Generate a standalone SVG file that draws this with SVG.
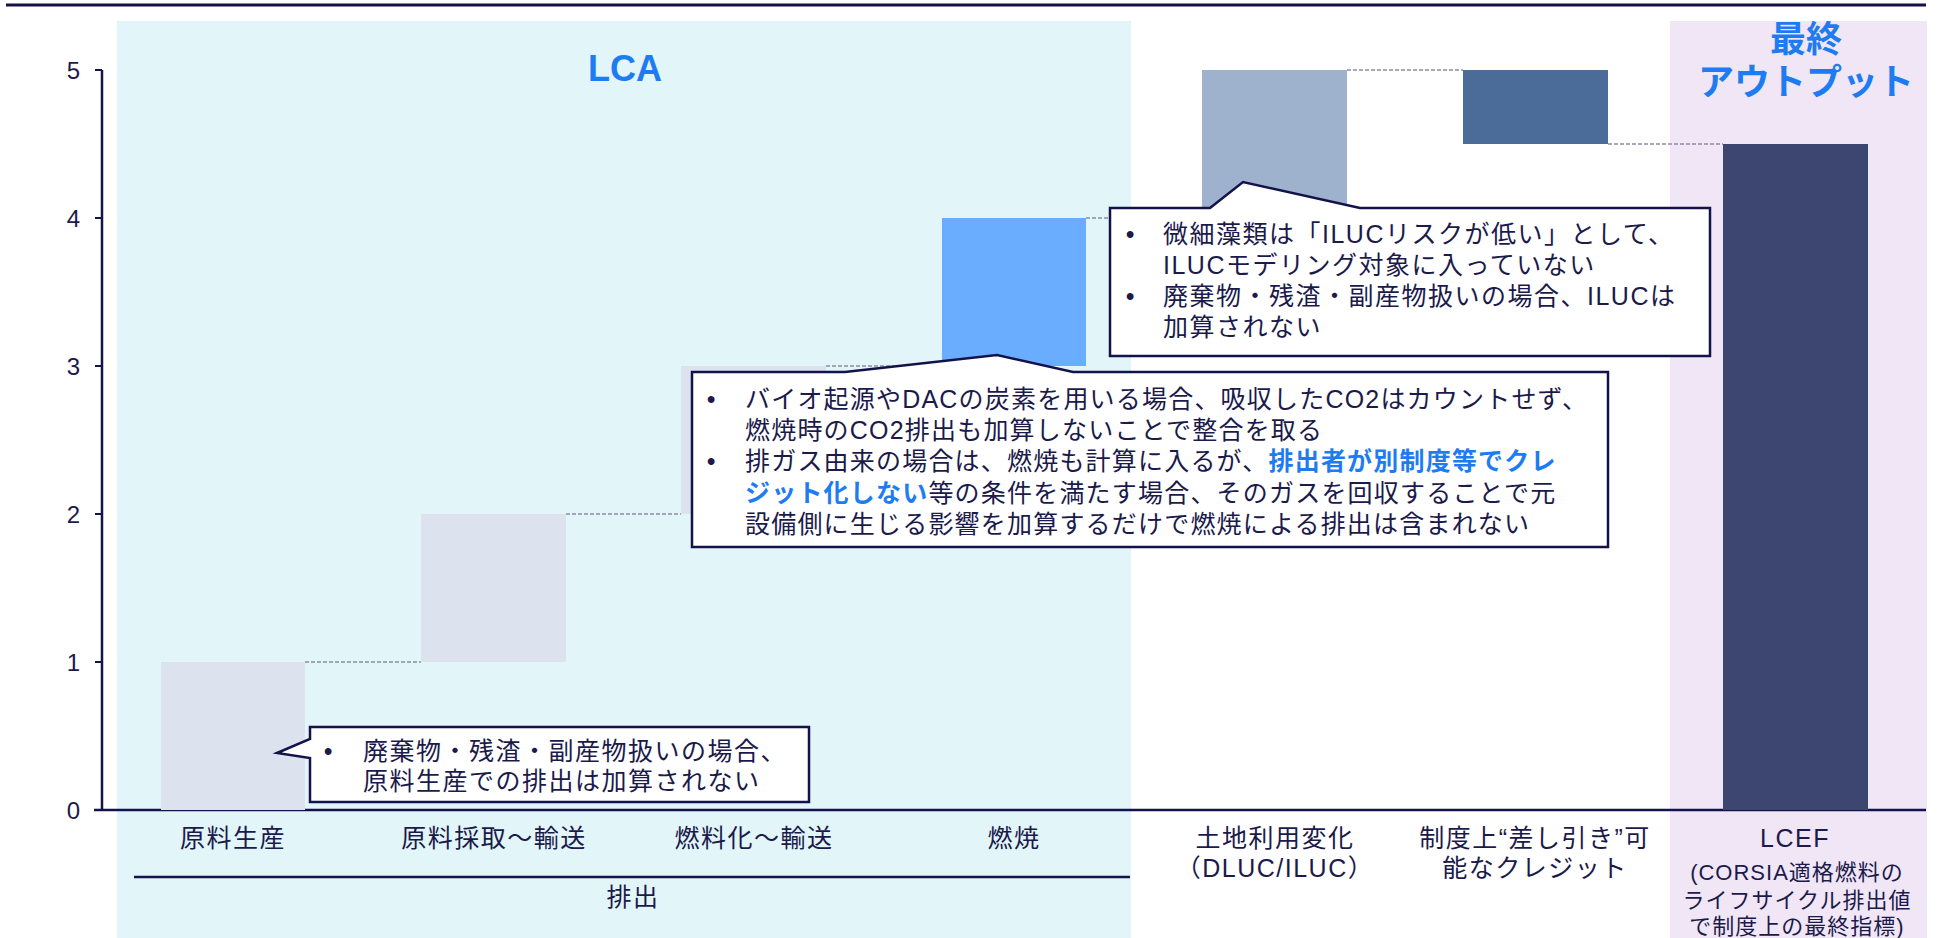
<svg xmlns="http://www.w3.org/2000/svg" width="1941" height="938" viewBox="0 0 1941 938">
<style>
.t{font-family:"Liberation Sans","Noto Sans CJK JP",sans-serif;font-size:25px;fill:#1b1a4b;letter-spacing:1.5px}
.m{text-anchor:middle}
.c3{letter-spacing:1.2px}
.ax{font-family:"Liberation Sans",sans-serif;font-size:24px;fill:#1b1a4b;text-anchor:end}
.hl{font-weight:bold;fill:#1e7cf2}
.ttl{font-family:"Liberation Sans","Noto Sans CJK JP",sans-serif;font-weight:bold;fill:#1e7cf2;font-size:36px;text-anchor:middle}
.dash{stroke:#8c8ca4;stroke-width:1.5;stroke-dasharray:4 2;fill:none}
.co{fill:#fff;stroke:#14124a;stroke-width:2.5}
.axis{stroke:#14124a;stroke-width:2.5;fill:none}
.sm{font-size:22px;letter-spacing:1px}
</style>
<g id="background">
<line x1="6" y1="5" x2="1926" y2="5" stroke="#14124a" stroke-width="3"/>
<rect id="lca-zone" x="117" y="21" width="1014" height="917" fill="#e2f5f9"/>
<rect id="final-zone" x="1670" y="21" width="257" height="917" fill="#f0e6f6"/>
<text class="ttl" x="625" y="81">LCA</text>
<text class="ttl" x="1806" y="52">最終</text>
<text class="ttl" x="1806" y="95">アウトプット</text>
</g>
<g id="axes">
<line class="axis" x1="102" y1="70" x2="102" y2="810"/>
<line class="axis" x1="94" y1="810" x2="1926" y2="810"/>
<g stroke="#14124a" stroke-width="2">
<line x1="95" y1="70" x2="102" y2="70"/>
<line x1="95" y1="218" x2="102" y2="218"/>
<line x1="95" y1="366" x2="102" y2="366"/>
<line x1="95" y1="514" x2="102" y2="514"/>
<line x1="95" y1="662" x2="102" y2="662"/>
</g>
<text class="ax" x="80" y="79">5</text>
<text class="ax" x="80" y="227">4</text>
<text class="ax" x="80" y="375">3</text>
<text class="ax" x="80" y="523">2</text>
<text class="ax" x="80" y="671">1</text>
<text class="ax" x="80" y="819">0</text>
<line class="axis" x1="134" y1="877" x2="1130" y2="877"/>
<text class="t m" x="633" y="906">排出</text>
</g>
<g id="bar-feedstock">
<rect x="161" y="662" width="144" height="148" fill="#dde3ee"/>
<text class="t m" x="233" y="847">原料生産</text>
</g>
<g id="bar-extraction">
<rect x="421" y="514" width="145" height="148" fill="#dde3ee"/>
<text class="t m" x="494" y="847">原料採取～輸送</text>
</g>
<g id="bar-conversion">
<rect x="681" y="366" width="145" height="148" fill="#dde3ee"/>
<text class="t m" x="754" y="847">燃料化～輸送</text>
</g>
<g id="bar-combustion">
<rect x="942" y="218" width="144" height="148" fill="#6aadff"/>
<text class="t m" x="1014" y="847">燃焼</text>
</g>
<g id="bar-luc">
<rect x="1202" y="70" width="145" height="148" fill="#9eb1cd"/>
<text class="t m" x="1275" y="847">土地利用変化</text>
<text class="t m" x="1275" y="877">（DLUC/ILUC）</text>
</g>
<g id="bar-credit">
<rect x="1463" y="70" width="145" height="74" fill="#4b6b98"/>
<text class="t m" x="1535" y="847">制度上“差し引き”可</text>
<text class="t m" x="1535" y="877">能なクレジット</text>
</g>
<g id="bar-lcef">
<rect x="1723" y="144" width="145" height="666" fill="#3c4670"/>
<text class="t m" x="1795" y="847" font-size="26">LCEF</text>
<text class="t m sm" x="1797" y="880">(CORSIA適格燃料の</text>
<text class="t m sm" x="1797" y="908">ライフサイクル排出値</text>
<text class="t m sm" x="1797" y="934">で制度上の最終指標)</text>
</g>
<g id="connectors">
<line class="dash" x1="305" y1="662" x2="421" y2="662"/>
<line class="dash" x1="566" y1="514" x2="681" y2="514"/>
<line class="dash" x1="826" y1="366" x2="942" y2="366"/>
<line class="dash" x1="1086" y1="218" x2="1202" y2="218"/>
<line class="dash" x1="1347" y1="70" x2="1463" y2="70"/>
<line class="dash" x1="1608" y1="144" x2="1723" y2="144"/>
</g>
<g id="callout-iluc">
<path class="co" d="M1110,208 L1210,208 L1243,182 L1360,208 L1710,208 L1710,356 L1110,356 Z"/>
<text class="t m" x="1131" y="243">•</text>
<text class="t" x="1163" y="243">微細藻類は「ILUCリスクが低い」として、</text>
<text class="t" x="1163" y="274">ILUCモデリング対象に入っていない</text>
<text class="t m" x="1131" y="305">•</text>
<text class="t" x="1163" y="305">廃棄物・残渣・副産物扱いの場合、ILUCは</text>
<text class="t" x="1163" y="336">加算されない</text>
</g>
<g id="callout-carbon">
<path class="co" d="M692,372 L845,372 L997,355 L1073,372 L1608,372 L1608,547 L692,547 Z"/>
<text class="t m" x="712" y="408">•</text>
<text class="t c3" x="745" y="408">バイオ起源やDACの炭素を用いる場合、吸収したCO2はカウントせず、</text>
<text class="t c3" x="745" y="439">燃焼時のCO2排出も加算しないことで整合を取る</text>
<text class="t m" x="712" y="470">•</text>
<text class="t c3" x="745" y="470">排ガス由来の場合は、燃焼も計算に入るが、<tspan class="hl">排出者が別制度等でクレ</tspan></text>
<text class="t c3" x="745" y="502"><tspan class="hl">ジット化しない</tspan>等の条件を満たす場合、そのガスを回収することで元</text>
<text class="t c3" x="745" y="533">設備側に生じる影響を加算するだけで燃焼による排出は含まれない</text>
</g>
<g id="callout-feedstock">
<path class="co" d="M310,727 L809,727 L809,802 L310,802 L310,758 L277,753 L310,739 Z"/>
<text class="t m" x="329" y="760">•</text>
<text class="t" x="363" y="760">廃棄物・残渣・副産物扱いの場合、</text>
<text class="t" x="363" y="790">原料生産での排出は加算されない</text>
</g>
</svg>
